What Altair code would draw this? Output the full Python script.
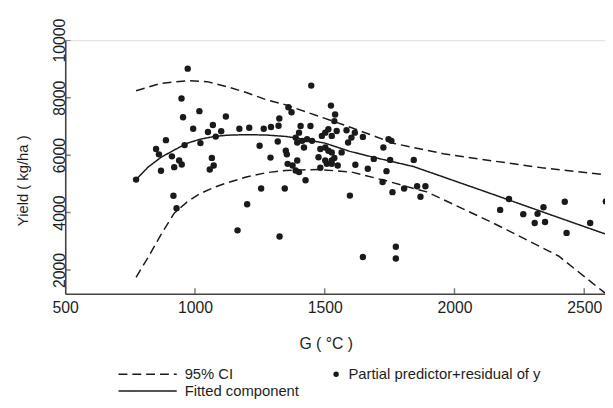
import altair as alt
import pandas as pd

# ---------------- data ----------------
fit_x = [773, 819, 869, 920, 971, 1021, 1072, 1122, 1198, 1274, 1350, 1388, 1500, 1597, 1700, 1843, 1995, 2147, 2375, 2580]
fit_y = [5148, 5581, 5924, 6178, 6418, 6556, 6645, 6693, 6713, 6700, 6650, 6600, 6420, 6130, 5900, 5600, 5120, 4640, 3910, 3260]

ci_up_x = [773, 868, 971, 1047, 1122, 1198, 1274, 1350, 1388, 1604, 1768, 1957, 2147, 2337, 2580]
ci_up_y = [8238, 8499, 8591, 8557, 8385, 8179, 7929, 7750, 7630, 6954, 6404, 6050, 5800, 5560, 5320]

ci_lo_x = [773, 819, 869, 920, 971, 1021, 1072, 1122, 1198, 1274, 1350, 1475, 1604, 1730, 1843, 1893, 2147, 2401, 2580]
ci_lo_y = [1749, 2436, 3236, 3980, 4380, 4667, 4873, 5031, 5237, 5388, 5467, 5502, 5409, 5124, 4839, 4722, 3648, 2491, 1200]

pts_x = [972, 948, 954, 1017, 1119, 993, 1069, 1050, 1101, 1080, 1171, 1209, 1265, 1293, 1322, 1325, 1360, 1372,
         888, 850, 861, 960, 1021, 911, 939, 949, 920, 869, 1065, 1072, 1057, 773, 1249, 1291, 1319, 1350, 1354,
         1357, 1255, 1346, 917, 929, 1201, 1164, 1326,
         1448, 1524, 1540, 1537, 1445, 1407, 1401, 1514, 1502, 1489, 1527, 1546, 1584, 1616, 1603, 1647, 1590,
         1388, 1394, 1413, 1432, 1451, 1420, 1483, 1502, 1514, 1476, 1502, 1527, 1527, 1565, 1537, 1508, 1527,
         1394, 1376, 1388, 1401, 1426, 1483, 1550, 1597, 1689, 1752, 1726, 1746, 1757, 1618, 1666, 1738, 1761,
         1723, 1806, 1843, 1856, 1888, 1869, 1774, 1774, 1647,
         2210, 2176, 2265, 2320, 2343, 2309, 2349, 2425, 2432, 2523, 2583]
pts_y = [9010, 7970, 7320, 7530, 7345, 6920, 7047, 6806, 6830, 6645, 6920, 6954, 6920, 6978, 7022, 7277, 7664, 7493,
         6521, 6212, 6027, 6350, 6418, 5958, 5811, 5673, 5581, 5457, 5903, 5639, 5502, 5148, 6326, 5914, 6473, 6154, 6027,
         5697, 4839, 4839, 4585, 4152, 4290, 3383, 3167,
         8420, 7723, 7414, 7184, 7012, 7012, 6782, 6899, 6782, 6669, 6669, 6840, 6865, 6782, 6611, 6635, 6439,
         6611, 6439, 6497, 6556, 6497, 6267, 6212, 6267, 6154, 5924, 5811, 6096, 5811, 6096, 5903, 5697, 5697,
         5811, 5639, 5467, 5409, 5124, 5560, 5639, 4592, 5869, 5835, 6267, 6556, 6497, 5663, 5526, 5443, 4712,
         5066, 4839, 5835, 4918, 4918, 4551, 2814, 2402, 2457,
         4472, 4094, 3946, 3957, 4187, 3638, 3672, 4379, 3294, 3638, 4390]

x_labels = [500, 1000, 1500, 2000, 2500]
x_ticks = [1000, 1500, 2000, 2500]
y_ticks = [2000, 4000, 6000, 8000, 10000]

CI_LABEL = "95% CI"
FIT_LABEL = "Fitted component"
PT_LABEL = "Partial predictor+residual of y"

X_DOM = [500, 2580]
Y_DOM = [1175, 10000]

# ---------------- tables ----------------
def line_table(xs, ys, series, part):
    return pd.DataFrame({"x": xs, "y": ys, "series": series, "part": part, "i": list(range(len(xs)))})

lines_df = pd.concat([
    line_table(ci_up_x, ci_up_y, CI_LABEL, "upper"),
    line_table(ci_lo_x, ci_lo_y, CI_LABEL, "lower"),
    line_table(fit_x, fit_y, FIT_LABEL, "fit"),
], ignore_index=True)

pts_df = pd.DataFrame({"x": pts_x, "y": pts_y, "kind": PT_LABEL})
xt_df = pd.DataFrame({"x": x_ticks, "y": [Y_DOM[0]] * len(x_ticks)})
yt_df = pd.DataFrame({"x": [X_DOM[0]] * len(y_ticks), "y": y_ticks})

FONT = "Liberation Sans"
INK = "#1a1a1a"
AX = "#444444"
TXT = "#1e1e1e"

xs = alt.Scale(domain=X_DOM, nice=False, zero=False)
ys = alt.Scale(domain=Y_DOM, nice=False, zero=False)

x_axis = alt.Axis(values=x_labels, format="d", title="G ( °C )", ticks=False, grid=False, labelFlush=False,
                  labelPadding=6, labelFontSize=16, labelFont=FONT, labelColor=TXT,
                  domainColor=AX, domainWidth=1.6,
                  titleFont=FONT, titleFontSize=16, titleFontWeight="normal", titleColor=TXT,
                  titleX=264, titleY=50, titleAlign="center", titleBaseline="middle")
y_axis = alt.Axis(values=y_ticks, format="d", title="Yield ( kg/ha )", ticks=False, grid=False, labelFlush=False,
                  labelAngle=270, labelPadding=1,
                  labelFontSize=16, labelFont=FONT, labelColor=TXT,
                  domainColor=AX, domainWidth=1.6,
                  titleFont=FONT, titleFontSize=15, titleFontWeight="normal", titleColor=TXT,
                  titleAngle=270, titleX=-43, titleY=142, titleAlign="center", titleBaseline="middle")

X = alt.X("x:Q", scale=xs, axis=x_axis)
Y = alt.Y("y:Q", scale=ys, axis=y_axis)

lines = alt.Chart(lines_df).mark_line(strokeWidth=1.5, color=INK, clip=True).encode(
    x=X, y=Y,
    strokeDash=alt.StrokeDash(
        "series:N",
        scale=alt.Scale(domain=[CI_LABEL, FIT_LABEL], range=[[9, 5], [1, 0]]),
        legend=alt.Legend(title=None, orient="none", legendX=53, legendY=330, direction="vertical",
                          symbolType="stroke", symbolSize=3481, symbolStrokeWidth=1.5,
                          symbolStrokeColor=INK, labelFont=FONT, labelFontSize=15, labelColor=TXT,
                          labelOffset=7, clipHeight=17, rowPadding=0, padding=0, labelLimit=300),
    ),
    detail="part:N",
    order="i:Q",
)

points = alt.Chart(pts_df).mark_circle(size=42, opacity=1, clip=True).encode(
    x=X, y=Y,
    color=alt.Color(
        "kind:N",
        scale=alt.Scale(domain=[PT_LABEL], range=[INK]),
        legend=alt.Legend(title=None, orient="none", legendX=267, legendY=330,
                          symbolSize=30, symbolType="circle", labelFont=FONT, labelFontSize=15,
                          labelColor=TXT, labelOffset=5, clipHeight=17, padding=0, labelLimit=400),
    ),
)

xticks = alt.Chart(xt_df).mark_tick(orient="vertical", size=11, thickness=1.5, color=AX, clip=True).encode(x=X, y=Y)
yticks = alt.Chart(yt_df).mark_tick(orient="horizontal", size=11, thickness=1.5, color=AX, clip=True).encode(x=X, y=Y)

chart = alt.layer(lines, points, xticks, yticks).properties(
    width=547, height=257,
    autosize=alt.AutoSizeParams(type="none"),
    padding={"left": 58, "top": 30, "right": 0, "bottom": 104},
).configure_view(stroke=None).configure(background="white").configure_axisY(
    labelAngle=270, labelAlign="center", labelBaseline="alphabetic")

chart.save("out.html", embed_options={"renderer": "svg", "actions": False})
